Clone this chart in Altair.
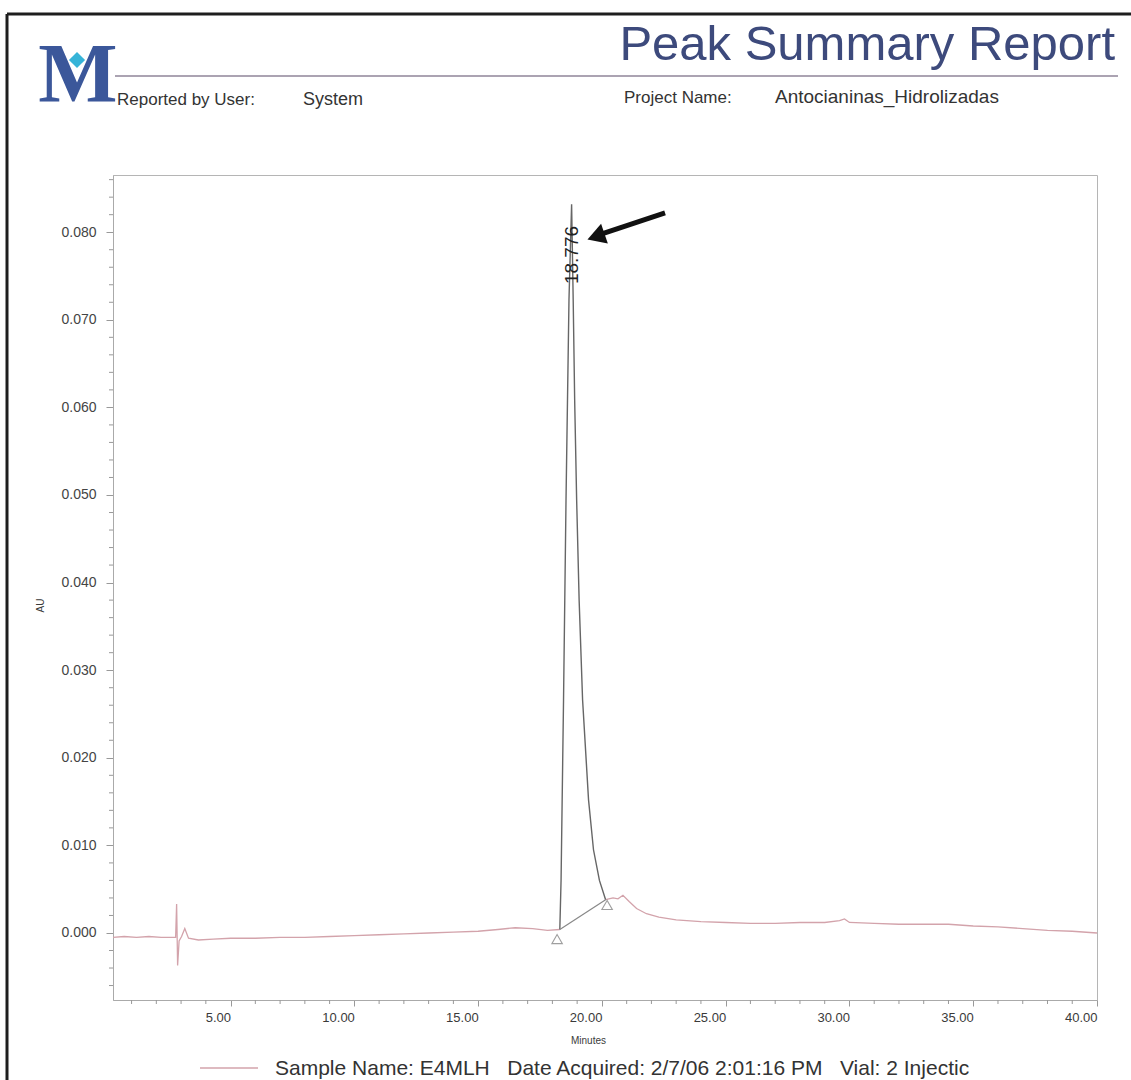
import altair as alt
import pandas as pd

# ---- chromatogram trace (minutes, AU) ----
pre_time = [0.25, 0.7, 1.2, 1.7, 2.2, 2.6, 2.78, 2.82, 2.86, 2.92, 3.02, 3.15, 3.3, 3.7, 4.3,
            5.0, 6.0, 7.0, 8.0, 9.0, 10.0, 11.0, 12.0, 13.0, 14.0, 15.0,
            15.8, 16.5, 17.2, 17.8, 18.30]
pre_au = [-0.0005, -0.0004, -0.0005, -0.0004, -0.0005, -0.0005, -0.0005, 0.0033, -0.0037, -0.0009,
          -0.0004, 0.0005, -0.0006, -0.0008, -0.0007,
          -0.0006, -0.0006, -0.0005, -0.0005, -0.0004, -0.0003, -0.0002, -0.0001, 0.0000, 0.0001, 0.0002,
          0.0004, 0.0006, 0.0005, 0.0003, 0.0004]

# integrated peak
peak_time = [18.30, 18.35, 18.45, 18.55, 18.67, 18.776, 18.84, 18.90, 18.98, 19.08,
             19.22, 19.46, 19.66, 19.90, 20.15]
peak_au = [0.0004, 0.0060, 0.0266, 0.0494, 0.0723, 0.0832, 0.0723, 0.0608, 0.0494, 0.0380,
           0.0266, 0.0152, 0.0095, 0.0060, 0.0038]

post_time = [20.15, 20.45, 20.65, 20.85, 21.1, 21.4, 21.8, 22.3, 23.0,
             24.0, 25.0, 26.0, 27.0, 28.0, 29.0, 29.6, 29.8,
             30.0, 31.0, 32.0, 33.0, 34.0, 35.0, 36.0, 37.0, 38.0, 39.0, 40.0]
post_au = [0.0038, 0.0040, 0.0039, 0.0043, 0.0036, 0.0028, 0.0022, 0.0018, 0.0015,
           0.0013, 0.0012, 0.0011, 0.0011, 0.0012, 0.0012, 0.0014, 0.0016,
           0.0012, 0.0011, 0.0010, 0.0010, 0.0010, 0.0008, 0.0007, 0.0005, 0.0003, 0.0002, 0.0000]

# integration baseline and start/end markers
base_time = [18.30, 20.15]
base_au = [0.0004, 0.0038]
marker_time = [18.19, 20.21]
marker_au = [-0.0007, 0.0032]

# retention time label
peak_rt = 18.776
peak_label = "18.776"
peak_label_au = 0.0774

# arrow pointing at the label
arrow_time = [22.55, 20.0]
arrow_au = [0.0822, 0.0798]
arrow_head_time = 19.76
arrow_head_au = 0.0795

# axes
x_ticks = [5, 10, 15, 20, 25, 30, 35, 40]
x_minor = [m for m in range(1, 41) if m % 5 != 0]
y_ticks = [0.0, 0.01, 0.02, 0.03, 0.04, 0.05, 0.06, 0.07, 0.08]
y_minor = [round(-0.006 + 0.002 * i, 3) for i in range(47)]
y_minor = [v for v in y_minor if round(v * 1000) % 10 != 0]

# report texts
NB = "\u00a0"
report_title = "Peak Summary Report"
user_label = "Reported by User:"
user_value = "System"
project_label = "Project Name:"
project_value = "Antocianinas_Hidrolizadas"
footer_text = ("Sample Name: E4MLH" + NB * 3 + "Date Acquired: 2/7/06 2:01:16 PM"
               + NB * 3 + "Vial: 2 Injectic")

W, H = 984, 825
FONT = "Liberation Sans"
TRACE = "#d3a3ab"

xs = alt.Scale(domain=[0.25, 40.0], nice=False, zero=False)
ys = alt.Scale(domain=[-0.00765, 0.08653], nice=False, zero=False)

x_axis = alt.Axis(values=x_ticks, format=".2f", labelAlign="right", labelFont=FONT, labelFontSize=13,
                  labelColor="#3a3a3a", labelPadding=5, tickSize=6, tickColor="#999", domainColor="#aaa",
                  grid=False, title="Minutes", titleFont=FONT, titleFontSize=10, titleFontWeight="normal",
                  titleColor="#3a3a3a", titleX=475, titleY=40, titleBaseline="middle")
y_axis = alt.Axis(values=y_ticks, format=".3f", labelFont=FONT, labelFontSize=14, labelColor="#444",
                  labelPadding=10, tickSize=7, tickColor="#999", domainColor="#aaa", grid=False,
                  title="AU", titleFont=FONT, titleFontSize=10, titleFontWeight="normal",
                  titleColor="#3a3a3a", titleAngle=270, titleX=-73, titleY=430,
                  titleAlign="center", titleBaseline="middle")

X = alt.X("t:Q", scale=xs, axis=x_axis)
Y = alt.Y("au:Q", scale=ys, axis=y_axis)


def frame(t, a):
    return pd.DataFrame({"t": t, "au": a})


pre = alt.Chart(frame(pre_time, pre_au)).mark_line(color=TRACE, strokeWidth=1.3).encode(x=X, y=Y)
post = alt.Chart(frame(post_time, post_au)).mark_line(color=TRACE, strokeWidth=1.3).encode(x=X, y=Y)
peak = alt.Chart(frame(peak_time, peak_au)).mark_line(color="#666", strokeWidth=1.4).encode(x=X, y=Y)
base = alt.Chart(frame(base_time, base_au)).mark_line(color="#888", strokeWidth=1.2).encode(x=X, y=Y)
markers = alt.Chart(frame(marker_time, marker_au)).mark_point(
    shape="triangle-up", size=110, filled=False, color="#777", strokeWidth=1.1).encode(x=X, y=Y)

label = alt.Chart(pd.DataFrame({"t": [peak_rt], "au": [peak_label_au], "s": [peak_label]})).mark_text(
    angle=270, font=FONT, fontSize=19, color="#222", align="center", baseline="middle").encode(
    x=X, y=Y, text="s:N")

arrow = alt.Chart(frame(arrow_time, arrow_au)).mark_line(color="#111", strokeWidth=5).encode(x=X, y=Y)
arrow_head = alt.Chart(frame([arrow_head_time], [arrow_head_au])).mark_point(
    shape="triangle-up", angle=251, size=430, filled=True, color="#111", opacity=1).encode(x=X, y=Y)

# minor ticks share the main scales, drawn just outside the axis lines
x_minor_ticks = alt.Chart(frame(x_minor, [0.0] * len(x_minor))).mark_rule(
    color="#999", strokeWidth=1).encode(x=X, y=alt.value(H), y2=alt.value(H + 4))
y_minor_ticks = alt.Chart(frame([1.0] * len(y_minor), y_minor)).mark_rule(
    color="#999", strokeWidth=1).encode(y=Y, x=alt.value(0), x2=alt.value(-4))


def text_at(s, x, y, size, color="#333", align="left", font=FONT, weight="normal"):
    return alt.Chart(pd.DataFrame({"s": [s]})).mark_text(
        align=align, baseline="alphabetic", font=font, fontSize=size, color=color, fontWeight=weight
    ).encode(x=alt.value(x), y=alt.value(y), text="s:N")


def rule_at(x, x2, y, y2, color, width):
    return alt.Chart(pd.DataFrame({"k": [0]})).mark_rule(color=color, strokeWidth=width).encode(
        x=alt.value(x), x2=alt.value(x2), y=alt.value(y), y2=alt.value(y2))


# page furniture around the plot (coordinates relative to the plot origin)
border_top = rule_at(-106, 1030, -161, -161, "#1e1e1e", 3)
border_left = rule_at(-106, -106, -161, 910, "#1e1e1e", 3)
header_rule = rule_at(2, 1005, -99, -99, "#8f8599", 1.5)
logo = text_at("M", -35, -73, 84, color="#3b579a", align="center", font="Liberation Serif", weight="bold")
logo_gem = alt.Chart(pd.DataFrame({"k": [0]})).mark_point(
    shape="diamond", size=260, filled=True, color="#36b4d8", opacity=1).encode(
    x=alt.value(-36), y=alt.value(-115))
title = text_at(report_title, 1002, -115, 49, color="#3d4a7c", align="right")
user_l = text_at(user_label, 4, -70, 17)
user_v = text_at(user_value, 190, -70, 18)
proj_l = text_at(project_label, 511, -72, 17)
proj_v = text_at(project_value, 662, -72, 19)
legend_line = rule_at(87, 145, 893, 893, TRACE, 1.3)
footer = text_at(footer_text, 162, 900, 21)

chart = alt.layer(
    pre, post, peak, base, markers, arrow, arrow_head, label,
    x_minor_ticks, y_minor_ticks,
    border_top, border_left, header_rule, logo, logo_gem, title,
    user_l, user_v, proj_l, proj_v, legend_line, footer,
).properties(
    width=W, height=H,
    autosize=alt.AutoSizeParams(type="none"),
    padding={"left": 113, "top": 175, "right": 34, "bottom": 80},
    background="white",
).configure_view(stroke="#b5b5b5", strokeWidth=1)

chart.save("out.html", embed_options={"renderer": "svg", "actions": False})
